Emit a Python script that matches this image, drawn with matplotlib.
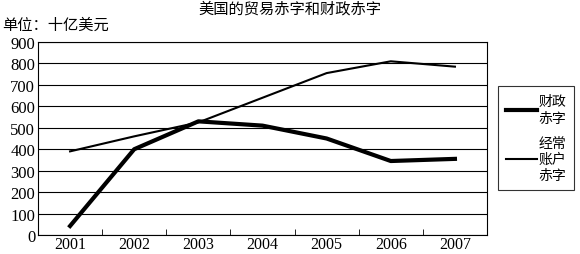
import matplotlib
matplotlib.use("Agg")
import matplotlib.pyplot as plt
import numpy as np

# 数据
years = ["2001", "2002", "2003", "2004", "2005", "2006", "2007"]
fiscal_deficit = [42, 400, 530, 510, 450, 345, 355]
current_account = [390, 460, 525, 640, 755, 810, 785]
y_ticks = [0, 100, 200, 300, 400, 500, 600, 700, 800, 900]

cjk = ["Noto Sans CJK SC", "DejaVu Sans"]
num_font = "Liberation Serif"

fig = plt.figure(figsize=(5.8, 2.55), dpi=100)
ax = fig.add_axes([38 / 580, 19 / 255, 449 / 580, 193 / 255])

x = np.arange(len(years))
ax.plot(x, fiscal_deficit, color="black", linewidth=3.0, label="财政\n赤字")
ax.plot(x, current_account, color="black", linewidth=1.5, label="经常\n账户\n赤字")

ax.set_xlim(-0.5, len(years) - 0.5)
ax.set_ylim(0, 900)
ax.set_yticks(y_ticks)
ax.set_yticklabels([str(v) for v in y_ticks], fontfamily=num_font, fontsize=12)
ax.set_xticks(x)
ax.set_xticklabels(years, fontfamily=num_font, fontsize=11.5)
ax.set_xticks(np.arange(-0.5, len(years)), minor=True)
ax.tick_params(axis="x", which="major", length=0, pad=1)
ax.tick_params(axis="x", which="minor", length=4, direction="in")
ax.tick_params(axis="y", length=0, pad=2)
ax.grid(axis="y", color="black", linewidth=0.8)
ax.set_axisbelow(True)
for s in ax.spines.values():
    s.set_color("black")
    s.set_linewidth(0.8)

fig.text(0.5, 0.965, "美国的贸易赤字和财政赤字", ha="center", va="center",
         fontfamily=cjk, fontsize=11)
fig.text(0.004, 0.9, "单位：十亿美元", ha="left", va="center",
         fontfamily=cjk, fontsize=11)

leg = fig.legend(loc="upper left", bbox_to_anchor=(498 / 580, 1 - 87 / 255),
                 prop={"family": cjk, "size": 10}, frameon=True, fancybox=False,
                 edgecolor="black", handlelength=2.2, handletextpad=0.1,
                 labelspacing=0.8, borderpad=0.6, borderaxespad=0)
leg.get_frame().set_linewidth(0.8)

fig.savefig("out.png", dpi=100)
